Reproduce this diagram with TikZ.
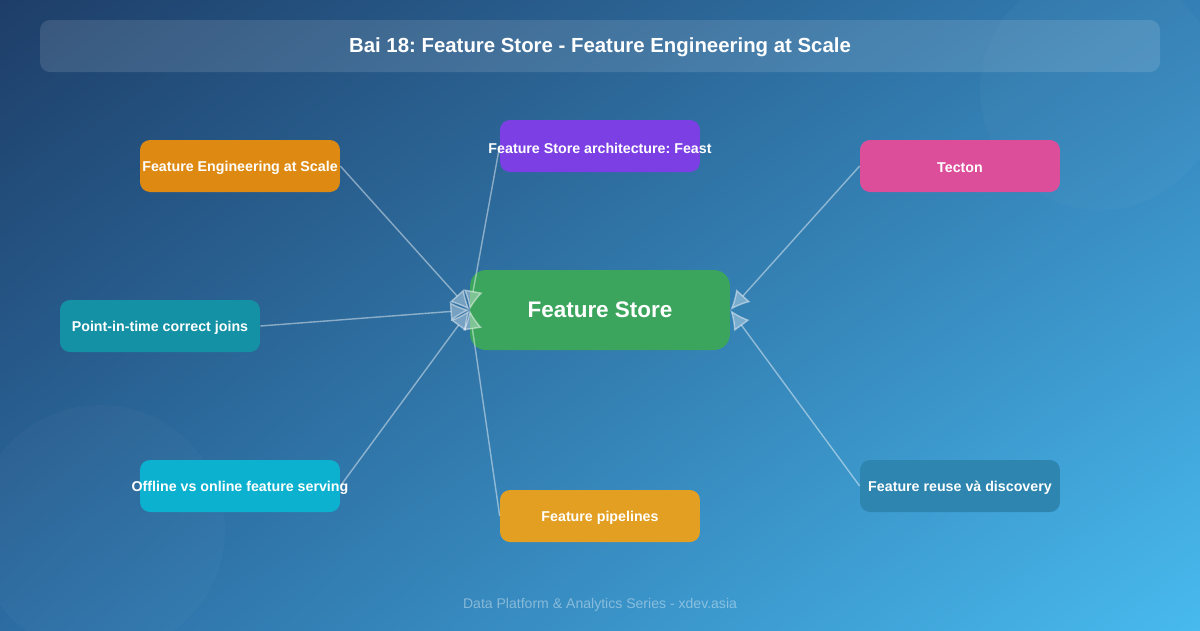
\documentclass[tikz,border=0pt]{standalone}
\usepackage{fontspec}
\setmainfont{Liberation Sans}
\frenchspacing
\usepackage{tikz}
\usetikzlibrary{arrows.meta,positioning,shadings}
\definecolor{bgTL}{RGB}{30,62,104}
\definecolor{bgTR}{RGB}{52,128,182}
\definecolor{bgBL}{RGB}{44,108,162}
\definecolor{bgBR}{RGB}{72,186,238}
\definecolor{cEng}{RGB}{222,138,18}
\definecolor{cFeast}{RGB}{123,63,228}
\definecolor{cTecton}{RGB}{221,78,154}
\definecolor{cJoin}{RGB}{21,145,165}
\definecolor{cServe}{RGB}{12,177,207}
\definecolor{cPipe}{RGB}{227,159,33}
\definecolor{cReuse}{RGB}{46,134,176}
\definecolor{cHub}{RGB}{59,165,93}
\newcommand{\fitlabel}[1]{\raisebox{-1.1pt}[\height][\depth]{\makebox[4cm]{#1}}}
\tikzset{
  topic/.style={rectangle, rounded corners=0.2cm, minimum width=4cm, minimum height=1.04cm, inner xsep=0pt, text=white, font=\bfseries\fontsize{8.1}{9.5}\selectfont},
  hub/.style={rectangle, rounded corners=0.32cm, minimum width=5.2cm, minimum height=1.6cm, fill=cHub, text=white, font=\bfseries\fontsize{12.8}{15}\selectfont},
  arr/.style={-{Latex[length=11pt, width=11pt]}, line width=0.8pt, draw=white, draw opacity=0.45, fill opacity=0.35},
}

\begin{document}
\begin{tikzpicture}[x=0.02cm, y=-0.02cm]
\useasboundingbox (0,0) rectangle (1200,630);
\shade[upper left=bgTL, upper right=bgTR, lower left=bgBL, lower right=bgBR] (0,0) rectangle (1200,630);
\fill[white, opacity=0.025] (1100,90) circle (120);
\fill[white, opacity=0.025] (100,530) circle (125);
% title bar
\fill[white, opacity=0.12, rounded corners=0.2cm] (40,20) rectangle (1160,72);
\node[text=white, font=\bfseries\fontsize{11.6}{14}\selectfont] (title) at (600,47) {Bai 18: Feature Store - Feature Engineering at Scale};
% hub and topics
\node[hub] (store) at (600,310) {Feature Store};
\node[topic, fill=cEng] (eng) at (240,166) {\fitlabel{Feature Engineering at Scale}};
\node[topic, fill=cFeast] (feast) at (600,146) {\fitlabel{Feature Store architecture: Feast}};
\node[topic, fill=cTecton] (tecton) at (960,166) {\fitlabel{Tecton}};
\node[topic, fill=cJoin] (joins) at (160,326) {\fitlabel{Point-in-time correct joins}};
\node[topic, fill=cServe] (serving) at (240,486) {\fitlabel{Offline vs online feature serving}};
\node[topic, fill=cPipe] (pipes) at (600,516) {\fitlabel{Feature pipelines}};
\node[topic, fill=cReuse] (reuse) at (960,486) {\fitlabel{Feature reuse và discovery}};
% connectors
\draw[arr] (eng.east) -- (store.west);
\draw[arr] (feast.west) -- (store.west);
\draw[arr] (joins.east) -- (store.west);
\draw[arr] (serving.east) -- (store.west);
\draw[arr] (pipes.west) -- (store.west);
\draw[arr] (tecton.west) -- (store.east);
\draw[arr] (reuse.west) -- (store.east);
\node[text=white, text opacity=0.4, font=\fontsize{8}{10}\selectfont] (footer) at (600,605) {Data Platform \& Analytics Series - xdev.asia};
\end{tikzpicture}
\end{document}
